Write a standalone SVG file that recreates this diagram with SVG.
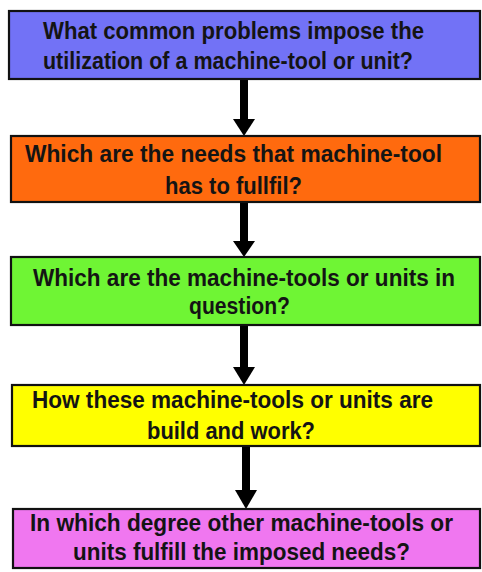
<svg xmlns="http://www.w3.org/2000/svg" width="482" height="572" viewBox="0 0 482 572">
<style>
.box{stroke:#111;stroke-width:2.2}
.t{font-family:"Liberation Sans",Arial,sans-serif;font-weight:bold;font-size:23px;fill:#141414}
.shaft{stroke:#000;stroke-width:8;fill:none}
.head{fill:#000}
</style>
<rect width="482" height="572" fill="#fff"/>
<g id="connectors">
<path class="shaft" d="M244,80 V119"/>
<polygon class="head" points="233,119 255,119 244,136"/>
<path class="shaft" d="M244,202 V241"/>
<polygon class="head" points="233,241 255,241 244,257"/>
<path class="shaft" d="M244,325 V367"/>
<polygon class="head" points="233,367 255,367 244,385"/>
<path class="shaft" d="M246,446 V490"/>
<polygon class="head" points="235,490 257,490 246,509"/>
</g>
<g id="n1">
<rect class="box" x="9" y="11" width="471" height="68" fill="#7272F6"/>
<text class="t" x="43" y="39" textLength="381" lengthAdjust="spacingAndGlyphs">What common problems impose the</text>
<text class="t" x="43" y="69" textLength="370" lengthAdjust="spacingAndGlyphs">utilization of a machine-tool or unit?</text>
</g>
<g id="n2">
<rect class="box" x="11" y="136" width="469" height="66" fill="#FF6A0E"/>
<text class="t" x="25" y="162" textLength="417" lengthAdjust="spacingAndGlyphs">Which are the needs that machine-tool</text>
<text class="t" x="165" y="194" textLength="137" lengthAdjust="spacingAndGlyphs">has to fullfil?</text>
</g>
<g id="n3">
<rect class="box" x="11" y="257" width="469" height="68" fill="#6FF534"/>
<text class="t" x="33" y="286" textLength="422" lengthAdjust="spacingAndGlyphs">Which are the machine-tools or units in</text>
<text class="t" x="189" y="314" textLength="101" lengthAdjust="spacingAndGlyphs">question?</text>
</g>
<g id="n4">
<rect class="box" x="12" y="385" width="468" height="61" fill="#FFFF00"/>
<text class="t" x="32" y="408" textLength="401" lengthAdjust="spacingAndGlyphs">How these machine-tools or units are</text>
<text class="t" x="147" y="439" textLength="168" lengthAdjust="spacingAndGlyphs">build and work?</text>
</g>
<g id="n5">
<rect class="box" x="13" y="509" width="467" height="59" fill="#F077F0"/>
<text class="t" x="30" y="531" textLength="423" lengthAdjust="spacingAndGlyphs">In which degree other machine-tools or</text>
<text class="t" x="73" y="560" textLength="337" lengthAdjust="spacingAndGlyphs">units fulfill the imposed needs?</text>
</g>
</svg>
